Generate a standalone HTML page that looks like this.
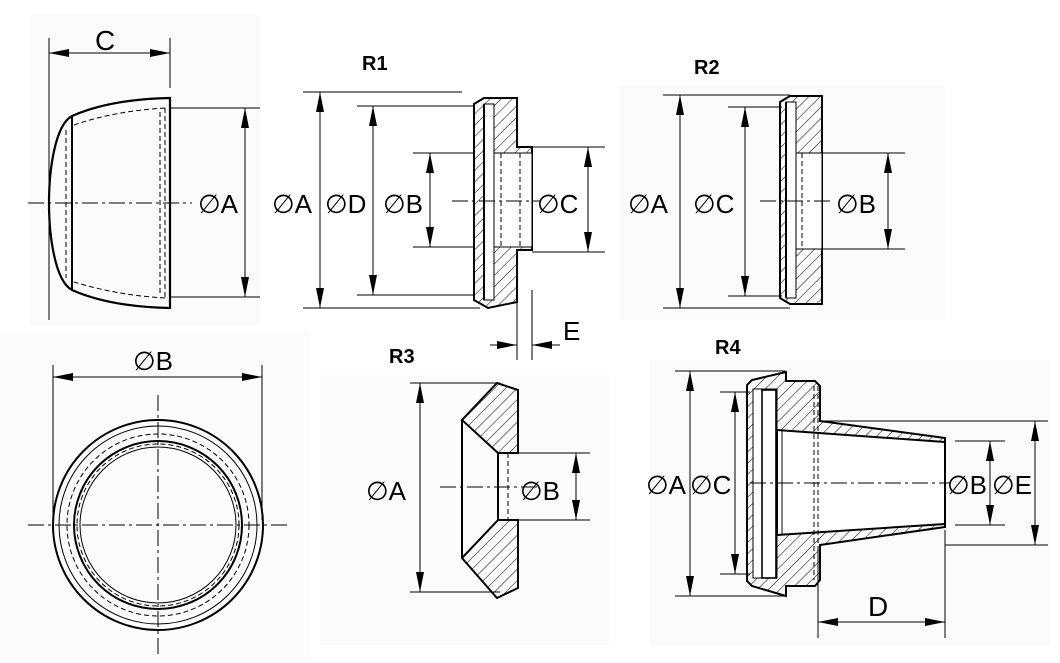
<!DOCTYPE html>
<html><head><meta charset="utf-8"><style>
html,body{margin:0;padding:0;background:#fff}
svg{display:block}
text{font-family:"Liberation Sans",sans-serif;fill:#000}
</style></head><body>
<svg width="1060" height="663" viewBox="0 0 1060 663" xmlns="http://www.w3.org/2000/svg">
<defs>
<marker id="a" viewBox="0 0 20 8" refX="20" refY="4" markerWidth="20" markerHeight="8" markerUnits="userSpaceOnUse" orient="auto-start-reverse"><path d="M0,0L20,4L0,8z" fill="#000"/></marker>
<pattern id="h" patternUnits="userSpaceOnUse" width="8" height="8" patternTransform="rotate(45)"><line x1="0" y1="0" x2="0" y2="8" stroke="#000" stroke-width="1"/></pattern>
</defs>
<rect width="1060" height="663" fill="#fff"/>
<rect x="30" y="15" width="230" height="310" fill="#fbfbfb"/>
<rect x="620" y="85" width="325" height="235" fill="#fbfbfb"/>
<rect x="650" y="360" width="400" height="285" fill="#fbfbfb"/>
<rect x="0" y="330" width="310" height="330" fill="#fcfcfc"/>
<rect x="320" y="375" width="290" height="270" fill="#fcfcfc"/>

<g stroke="#000" fill="none" stroke-width="1">
<line x1="49" y1="38" x2="49" y2="320"/><line x1="170" y1="38" x2="170" y2="88"/>
<line x1="49" y1="53" x2="170" y2="53" marker-start="url(#a)" marker-end="url(#a)"/>
<path d="M170,98 C120,99 90,108 72,116 C55,125 49,170 49,203 C49,236 55,281 72,290 C90,298 120,307 170,308 Z" stroke-width="2.2"/>
<line x1="72" y1="116" x2="72" y2="290" stroke-width="2"/>
<path d="M165,108 C130,110 100,116 74,125 M165,298 C130,296 100,290 74,282 M165,108 V298 M160,112 V294 M66,130 V278" stroke-dasharray="5,3"/>
<line x1="28" y1="203" x2="192" y2="203" stroke-dasharray="16,4,3,4"/>
<line x1="170" y1="108" x2="260" y2="108"/><line x1="170" y1="297" x2="260" y2="297"/>
<line x1="245" y1="108" x2="245" y2="297" marker-start="url(#a)" marker-end="url(#a)"/>

<line x1="303" y1="92" x2="462" y2="92"/><line x1="303" y1="308" x2="480" y2="308"/>
<line x1="320" y1="92" x2="320" y2="308" marker-start="url(#a)" marker-end="url(#a)"/>
<line x1="357" y1="106" x2="474" y2="106"/><line x1="357" y1="295" x2="474" y2="295"/>
<line x1="373" y1="106" x2="373" y2="295" marker-start="url(#a)" marker-end="url(#a)"/>
<line x1="413" y1="153" x2="474" y2="153"/><line x1="413" y1="247" x2="474" y2="247"/>
<line x1="430" y1="153" x2="430" y2="247" marker-start="url(#a)" marker-end="url(#a)"/>
<path d="M484,98 H517 V147 H532 V250 H517 V302 L488,308 L474,300 V104 Z" fill="url(#h)" stroke-width="2"/>
<rect x="484" y="104" width="10" height="196" fill="#fff"/>
<line x1="484" y1="104" x2="484" y2="300" stroke-width="2"/><line x1="494" y1="104" x2="494" y2="300"/>
<rect x="494" y="153" width="38" height="94" fill="#fff"/>
<line x1="494" y1="153" x2="532" y2="153"/><line x1="494" y1="247" x2="532" y2="247"/>
<line x1="501" y1="153" x2="501" y2="247" stroke-dasharray="5,3"/><line x1="520" y1="153" x2="520" y2="247" stroke-dasharray="5,3"/>
<line x1="452" y1="201" x2="540" y2="201" stroke-dasharray="16,4,3,4"/>
<line x1="532" y1="147" x2="605" y2="147"/><line x1="532" y1="252" x2="605" y2="252"/>
<line x1="588" y1="147" x2="588" y2="252" marker-start="url(#a)" marker-end="url(#a)"/>
<line x1="517" y1="290" x2="517" y2="360"/><line x1="532" y1="290" x2="532" y2="360"/>
<line x1="490" y1="345" x2="517" y2="345" marker-end="url(#a)"/>
<line x1="560" y1="345" x2="532" y2="345" marker-end="url(#a)"/>

<line x1="663" y1="95" x2="790" y2="95"/><line x1="663" y1="308" x2="790" y2="308"/>
<line x1="680" y1="95" x2="680" y2="308" marker-start="url(#a)" marker-end="url(#a)"/>
<line x1="728" y1="107" x2="782" y2="107"/><line x1="728" y1="296" x2="782" y2="296"/>
<line x1="745" y1="107" x2="745" y2="296" marker-start="url(#a)" marker-end="url(#a)"/>
<path d="M790,96 H822 V304 H790 L780,298 V102 Z" fill="url(#h)" stroke-width="2"/>
<rect x="786" y="102" width="10" height="196" fill="#fff"/>
<line x1="786" y1="102" x2="786" y2="298" stroke-width="2"/><line x1="796" y1="102" x2="796" y2="298"/>
<rect x="796" y="153" width="26" height="96" fill="#fff"/>
<line x1="796" y1="153" x2="822" y2="153"/><line x1="796" y1="249" x2="822" y2="249"/>
<line x1="802" y1="153" x2="802" y2="249" stroke-dasharray="5,3"/>
<line x1="760" y1="201" x2="832" y2="201" stroke-dasharray="16,4,3,4"/>
<line x1="822" y1="153" x2="905" y2="153"/><line x1="822" y1="249" x2="905" y2="249"/>
<line x1="888" y1="153" x2="888" y2="249" marker-start="url(#a)" marker-end="url(#a)"/>

<line x1="53" y1="365" x2="53" y2="520"/><line x1="262" y1="365" x2="262" y2="520"/>
<line x1="53" y1="377" x2="262" y2="377" marker-start="url(#a)" marker-end="url(#a)"/>
<circle cx="158" cy="525" r="105" stroke-width="2"/>
<circle cx="158" cy="525" r="99"/>
<circle cx="158" cy="525" r="84" stroke-width="2"/>
<circle cx="158" cy="525" r="78"/>
<circle cx="158" cy="525" r="91" stroke-dasharray="5,3"/>
<circle cx="158" cy="525" r="81" stroke-dasharray="5,3"/>
<line x1="28" y1="525" x2="290" y2="525" stroke-dasharray="16,4,3,4"/>
<line x1="158" y1="395" x2="158" y2="655" stroke-dasharray="16,4,3,4"/>

<line x1="410" y1="383" x2="500" y2="383"/><line x1="410" y1="592" x2="500" y2="592"/>
<line x1="420" y1="383" x2="420" y2="592" marker-start="url(#a)" marker-end="url(#a)"/>
<path d="M497,383 L518,390 V453 H498 L462,420 Z" fill="url(#h)" stroke-width="2"/>
<path d="M497,598 L518,588 V520 H498 L462,558 Z" fill="url(#h)" stroke-width="2"/>
<line x1="462" y1="420" x2="462" y2="558" stroke-width="2"/>
<line x1="498" y1="453" x2="498" y2="520" stroke-width="2"/>
<line x1="508" y1="453" x2="508" y2="520" stroke-dasharray="5,3"/>
<line x1="440" y1="487" x2="540" y2="487" stroke-dasharray="16,4,3,4"/>
<line x1="518" y1="453" x2="590" y2="453"/><line x1="518" y1="520" x2="590" y2="520"/>
<line x1="576" y1="453" x2="576" y2="520" marker-start="url(#a)" marker-end="url(#a)"/>

<line x1="675" y1="371" x2="785" y2="371"/><line x1="675" y1="596" x2="785" y2="596"/>
<line x1="690" y1="371" x2="690" y2="596" marker-start="url(#a)" marker-end="url(#a)"/>
<line x1="720" y1="392" x2="750" y2="392"/><line x1="720" y1="574" x2="750" y2="574"/>
<line x1="735" y1="392" x2="735" y2="574" marker-start="url(#a)" marker-end="url(#a)"/>
<path d="M786,372 V381 H815 L820,386 V421 L945,438 V527 L820,545 V580 L815,586 H786 V596 L752,586 L747,581 V385 L752,380 Z" fill="url(#h)" stroke-width="2"/>
<rect x="753" y="389" width="24" height="189" fill="#fff"/>
<rect x="762" y="390" width="14" height="188" stroke-width="1.6" fill="#fff"/>
<line x1="753" y1="390" x2="753" y2="577"/>
<path d="M777,430 L945,442 V524 L777,535 Z" fill="#fff" stroke="none"/>
<path d="M777,430 L945,442 M777,535 L945,524 M777,430 V535" stroke-width="2"/>
<line x1="782" y1="430" x2="782" y2="535"/>
<line x1="814" y1="386" x2="814" y2="580" stroke-dasharray="5,3"/>
<line x1="818" y1="386" x2="818" y2="580" stroke-dasharray="5,3"/>
<line x1="945" y1="438" x2="945" y2="527" stroke-width="2"/>
<line x1="750" y1="483" x2="950" y2="483" stroke-dasharray="16,4,3,4"/>
<line x1="955" y1="441" x2="1005" y2="441"/><line x1="955" y1="525" x2="1005" y2="525"/>
<line x1="990" y1="441" x2="990" y2="525" marker-start="url(#a)" marker-end="url(#a)"/>
<line x1="820" y1="421" x2="1048" y2="421"/><line x1="945" y1="545" x2="1048" y2="545"/>
<line x1="1035" y1="421" x2="1035" y2="545" marker-start="url(#a)" marker-end="url(#a)"/>
<line x1="818" y1="550" x2="818" y2="638"/><line x1="945" y1="530" x2="945" y2="638"/>
<line x1="818" y1="622" x2="945" y2="622" marker-start="url(#a)" marker-end="url(#a)"/>
</g>

<g font-size="26">
<text x="95" y="50" font-size="28">C</text>
<text x="198" y="213">∅A</text>
<text x="272" y="213">∅A</text>
<text x="325" y="213">∅D</text>
<text x="383" y="213">∅B</text>
<text x="537" y="213">∅C</text>
<text x="563" y="340">E</text>
<text x="628" y="213">∅A</text>
<text x="693" y="213">∅C</text>
<text x="836" y="213">∅B</text>
<text x="133" y="370">∅B</text>
<text x="366" y="500">∅A</text>
<text x="520" y="500">∅B</text>
<text x="646" y="494">∅A</text>
<text x="690" y="494">∅C</text>
<text x="947" y="494">∅B</text>
<text x="992" y="494">∅E</text>
<text x="868" y="616" font-size="28">D</text>
</g>
<g font-size="20" font-weight="bold">
<text x="362" y="70">R1</text>
<text x="694" y="74">R2</text>
<text x="389" y="363">R3</text>
<text x="715" y="354">R4</text>
</g>
</svg>
</body></html>
